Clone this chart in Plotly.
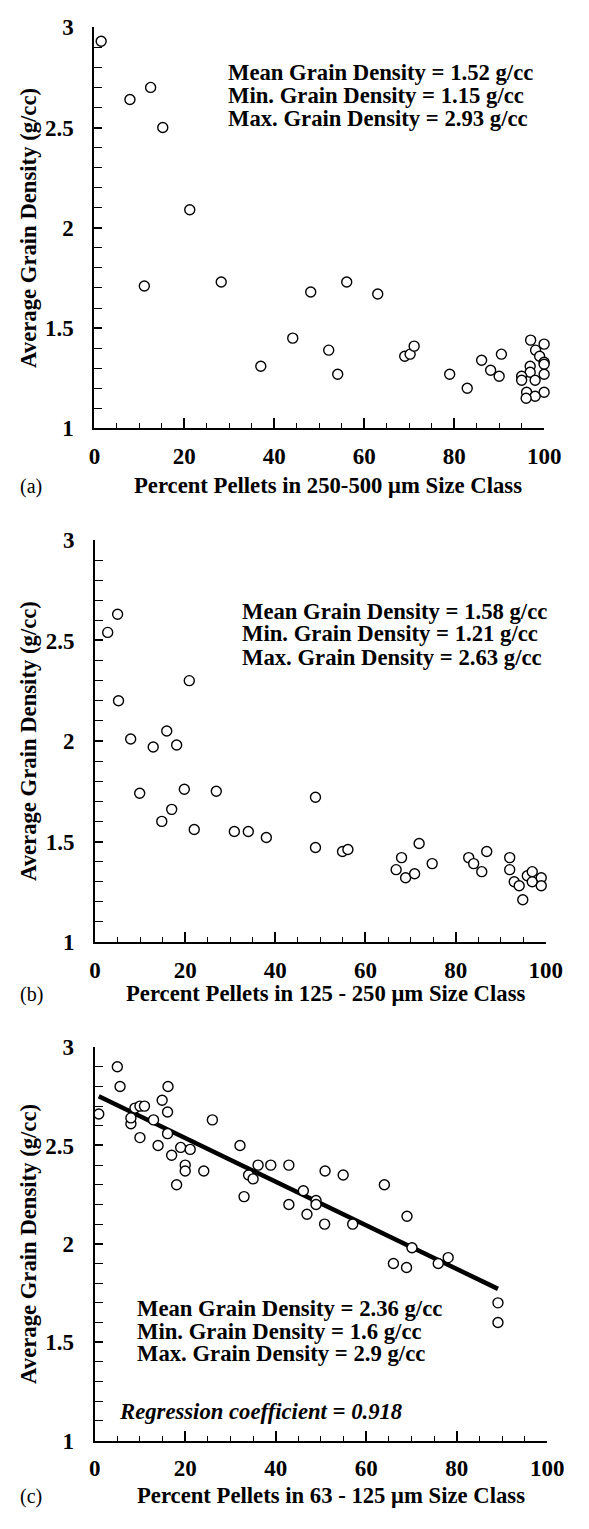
import numpy as np
import plotly.graph_objects as go

W, H = 589, 1529

# ---------------- data ----------------
a_x = [1.5, 7.9, 12.5, 15.2, 21.2, 11.1, 28.2, 37.0, 44.1, 48.1, 56.1, 63.0, 52.1, 54.1,
       69.0, 70.2, 71.1, 79.0, 82.9, 86.1, 88.1, 90.0, 90.5, 97.0, 100, 98.1, 99.0, 100,
       100, 96.9, 96.9, 95.0, 95.0, 100, 98.0, 96.1, 100, 98.0, 96.0]
a_y = [2.93, 2.64, 2.70, 2.50, 2.09, 1.71, 1.73, 1.31, 1.45, 1.68, 1.73, 1.67, 1.39, 1.27,
       1.36, 1.37, 1.41, 1.27, 1.20, 1.34, 1.29, 1.26, 1.37, 1.44, 1.42, 1.39, 1.36, 1.33,
       1.32, 1.31, 1.28, 1.26, 1.24, 1.27, 1.24, 1.18, 1.18, 1.16, 1.15]

b_x = [2.8, 5.0, 5.2, 7.9, 12.9, 15.9, 18.1, 20.9, 9.9, 14.8, 17.0, 19.8, 22.0, 26.9, 30.9,
       34.0, 38.0, 48.9, 48.9, 54.9, 56.1, 68.0, 66.8, 68.9, 70.9, 71.9, 74.8, 82.9, 84.0,
       86.9, 85.8, 92.0, 92.0, 93.0, 94.1, 94.9, 95.9, 97.0, 97.0, 99.0, 99.0]
b_y = [2.54, 2.63, 2.20, 2.01, 1.97, 2.05, 1.98, 2.30, 1.74, 1.60, 1.66, 1.76, 1.56, 1.75, 1.55,
       1.55, 1.52, 1.72, 1.47, 1.45, 1.46, 1.42, 1.36, 1.32, 1.34, 1.49, 1.39, 1.42, 1.39,
       1.45, 1.35, 1.42, 1.36, 1.30, 1.28, 1.21, 1.33, 1.35, 1.30, 1.32, 1.28]

c_x = [0.9, 5.0, 5.6, 8.0, 8.0, 8.9, 10.0, 11.0, 10.0, 13.0, 14.0, 14.9, 16.2, 16.1, 16.1, 17.0,
       18.1, 19.0, 20.0, 20.0, 21.1, 24.1, 26.0, 32.1, 33.0, 34.0, 35.0, 36.1, 38.9, 42.9,
       42.9, 50.9, 54.9, 46.1, 48.9, 48.9, 46.9, 50.8, 57.0, 64.0, 69.0, 70.1, 66.0, 68.9,
       75.9, 78.1, 89.1, 89.1]
c_y = [2.66, 2.90, 2.80, 2.61, 2.64, 2.69, 2.70, 2.70, 2.54, 2.63, 2.50, 2.73, 2.80, 2.67, 2.56,
       2.45, 2.30, 2.49, 2.40, 2.37, 2.48, 2.37, 2.63, 2.50, 2.24, 2.35, 2.33, 2.40, 2.40,
       2.40, 2.20, 2.37, 2.35, 2.27, 2.22, 2.20, 2.15, 2.10, 2.10, 2.30, 2.14, 1.98, 1.90,
       1.88, 1.90, 1.93, 1.70, 1.60]

reg_intercept = 2.76
reg_slope = -0.0111

stats_a = ["Mean Grain Density = 1.52 g/cc", "Min. Grain Density = 1.15 g/cc",
           "Max. Grain Density = 2.93 g/cc"]
stats_b = ["Mean Grain Density = 1.58 g/cc", "Min. Grain Density = 1.21 g/cc",
           "Max. Grain Density = 2.63 g/cc"]
stats_c = ["Mean Grain Density = 2.36 g/cc", "Min. Grain Density = 1.6 g/cc",
           "Max. Grain Density = 2.9 g/cc"]
reg_text = "Regression coefficient = 0.918"
x_titles = ["Percent Pellets in 250-500 \u03bcm Size Class",
            "Percent Pellets in 125 - 250 \u03bcm Size Class",
            "Percent Pellets in 63 - 125 \u03bcm Size Class"]
y_title = "Average Grain Density (g/cc)"
panel_labels = ["(a)", "(b)", "(c)"]

# ---------------- layout helpers ----------------
FONT = "Liberation Serif"
TXT = 22.7

def px_x(p):
    return p / W

def px_y(p):
    return 1 - p / H

# plot areas in pixels: (left, right, top, bottom)
areas = [(92, 560, 15.5, 423.3), (92.7, 561.7, 536.7, 945.5), (92.3, 563.3, 1052.3, 1452.3)]

fig = go.Figure()

series = [(a_x, a_y), (b_x, b_y), (c_x, c_y)]
for i, (xs, ys) in enumerate(series):
    suf = "" if i == 0 else str(i + 1)
    if i == 2:
        lx = np.array([min(xs), max(xs)])
        fig.add_trace(go.Scatter(x=lx, y=reg_intercept + reg_slope * lx, mode="lines",
                                 line=dict(color="black", width=4.5),
                                 xaxis="x" + suf, yaxis="y" + suf, showlegend=False,
                                 hoverinfo="skip"))
    fig.add_trace(go.Scatter(x=xs, y=ys, mode="markers",
                             marker=dict(symbol="circle", size=10, color="white",
                                         line=dict(color="black", width=1.4)),
                             xaxis="x" + suf, yaxis="y" + suf, showlegend=False,
                             cliponaxis=False))

tickfont = dict(family=FONT, size=23, color="black", weight="bold")
layout = dict(width=W, height=H, autosize=False, margin=dict(l=0, r=0, t=0, b=0),
              paper_bgcolor="white", plot_bgcolor="white", showlegend=False)

for i, (l, r, t, b) in enumerate(areas):
    suf = "" if i == 0 else str(i + 1)
    layout["xaxis" + suf] = dict(
        domain=[px_x(l), px_x(r)], range=[0, 100], anchor="y" + suf,
        showline=True, linecolor="black", linewidth=2, mirror=False,
        showgrid=False, zeroline=False, ticks="inside", ticklen=10, tickwidth=1.6,
        tickcolor="black", tick0=0, dtick=20, tickfont=tickfont, ticklabelstandoff=6,
        minor=dict(dtick=5, ticks="inside", ticklen=5, tickwidth=1.4, tickcolor="black",
                   showgrid=False),
    )
    layout["yaxis" + suf] = dict(
        domain=[px_y(b), px_y(t)], range=[1, 3], anchor="x" + suf,
        showline=True, linecolor="black", linewidth=2, mirror=False,
        showgrid=False, zeroline=False, ticks="inside", ticklen=8, tickwidth=1.6,
        tickcolor="black", tick0=1, dtick=0.5, tickfont=tickfont, ticklabelstandoff=14,
        minor=dict(dtick=0.1, ticks="inside", ticklen=8, tickwidth=1.4, tickcolor="black",
                   showgrid=False),
    )

fig.update_layout(**layout)

ann = []
txtfont = dict(family=FONT, size=TXT, color="black")

# y titles
for (l, r, t, b) in areas:
    ann.append(dict(text="<b>" + y_title + "</b>", x=px_x(24), y=px_y((t + b) / 2),
                    xref="paper", yref="paper", textangle=-90, showarrow=False,
                    xanchor="center", yanchor="middle", font=txtfont))

# x titles and panel labels
title_pos = [(335, 481), (332, 998), (338.5, 1508)]
for i, (cx, cy) in enumerate(title_pos):
    ann.append(dict(text="<b>" + x_titles[i] + "</b>", x=px_x(cx), y=px_y(cy),
                    xref="paper", yref="paper", showarrow=False, xanchor="center",
                    yanchor="middle", font=txtfont))
    ann.append(dict(text=panel_labels[i], x=px_x(12), y=px_y(cy + 1), xref="paper",
                    yref="paper", showarrow=False, xanchor="left", yanchor="middle",
                    font=dict(family=FONT, size=20, color="black")))

# stats text
stat_blocks = [(stats_a, 229, [62, 85, 108]), (stats_b, 244, [609, 632, 656]),
               (stats_c, 134, [1318, 1341, 1364])]
for lines, lx, ys in stat_blocks:
    for s, yy in zip(lines, ys):
        ann.append(dict(text="<b>" + s + "</b>", x=px_x(lx), y=px_y(yy), xref="paper",
                        yref="paper", showarrow=False, xanchor="left", yanchor="middle",
                        font=txtfont))

ann.append(dict(text="<b><i>" + reg_text + "</i></b>", x=px_x(115), y=px_y(1423),
                xref="paper", yref="paper", showarrow=False, xanchor="left",
                yanchor="middle", font=txtfont))

fig.update_layout(annotations=ann)
fig.write_html("out.html")
